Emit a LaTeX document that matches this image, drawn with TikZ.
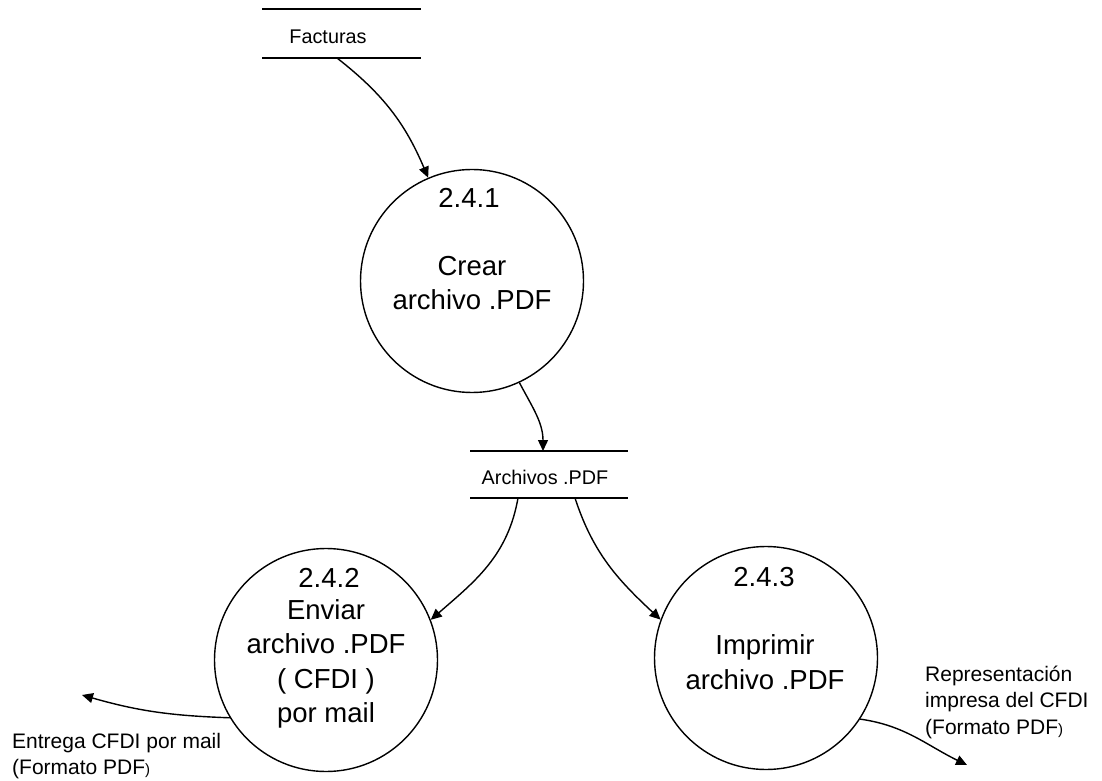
\documentclass[tikz,border=0pt]{standalone}
\usepackage{fontspec}
\setmainfont{Liberation Sans}
\usetikzlibrary{arrows.meta}

\begin{document}
\begin{tikzpicture}[x=1pt, y=1pt,
    proc/.style={draw, circle, line width=1.4pt, minimum size=223pt, inner sep=0pt},
    bigtxt/.style={font=\fontsize{27.5}{34.5}\selectfont, align=center, inner sep=0pt},
    storetxt/.style={font=\fontsize{19.8}{24}\selectfont, inner sep=0pt},
    storeline/.style={line width=2.2pt},
    flowtxt/.style={font=\fontsize{21}{26.5}\selectfont, align=left, anchor=west, inner sep=0pt},
    flow/.style={line width=1.4pt, -{Triangle[length=11pt, width=10pt]}}]

    \useasboundingbox (0,0) rectangle (1102,780);

    % Data stores
    \node[storetxt] (fact) at (328,743) {Facturas};
    \draw[storeline] (262,771) -- (421,771);
    \draw[storeline] (262,722) -- (421,722);
    \coordinate (fact out) at (337,722);

    \node[storetxt] (arch) at (545,303) {Archivos .PDF};
    \draw[storeline] (470,329) -- (628,329);
    \draw[storeline] (470,282) -- (628,282);
    \coordinate (arch in) at (543,329);
    \coordinate (arch out1) at (518,282);
    \coordinate (arch out2) at (575,282);

    % Processes
    \node[proc] (p1) at (472,499) {};
    \node[bigtxt] (p1num) at (469,582) {2.4.1};
    \node[bigtxt] (p1txt) at (472,497) {Crear\\archivo .PDF};

    \node[proc] (p2) at (326,120) {};
    \node[bigtxt] (p2num) at (329,202) {2.4.2};
    \node[bigtxt] (p2txt) at (326,116) {Enviar\\archivo .PDF\\( CFDI )\\por mail};

    \node[proc] (p3) at (766,122) {};
    \node[bigtxt] (p3num) at (764,203) {2.4.3};
    \node[bigtxt] (p3txt) at (765,118) {Imprimir\\archivo .PDF};

    % Outputs
    \coordinate (mail end) at (82,85);
    \node[flowtxt] (mailtxt) at (12,24) {Entrega CFDI por mail\\(Formato PDF{\fontsize{15}{15}\selectfont)}};
    \coordinate (print end) at (967,15);
    \node[flowtxt] (printtxt) at (925,78) {Representación\\impresa del CFDI\\(Formato PDF{\fontsize{15}{15}\selectfont)}};

    % Flows
    \draw[flow] (fact out) to[out=-38, in=113] (p1.113);
    \draw[flow] (p1.-65) to[out=-62, in=90] (arch in);
    \draw[flow] (arch out1) to[out=-100, in=41] (p2.21);
    \draw[flow] (arch out2) to[out=-72, in=137] (p3.160);
    \draw[flow] (p2.211) to[out=178, in=-16] (mail end);
    \draw[flow] (p3.-33) to[out=-8, in=154] (print end);
\end{tikzpicture}
\end{document}
